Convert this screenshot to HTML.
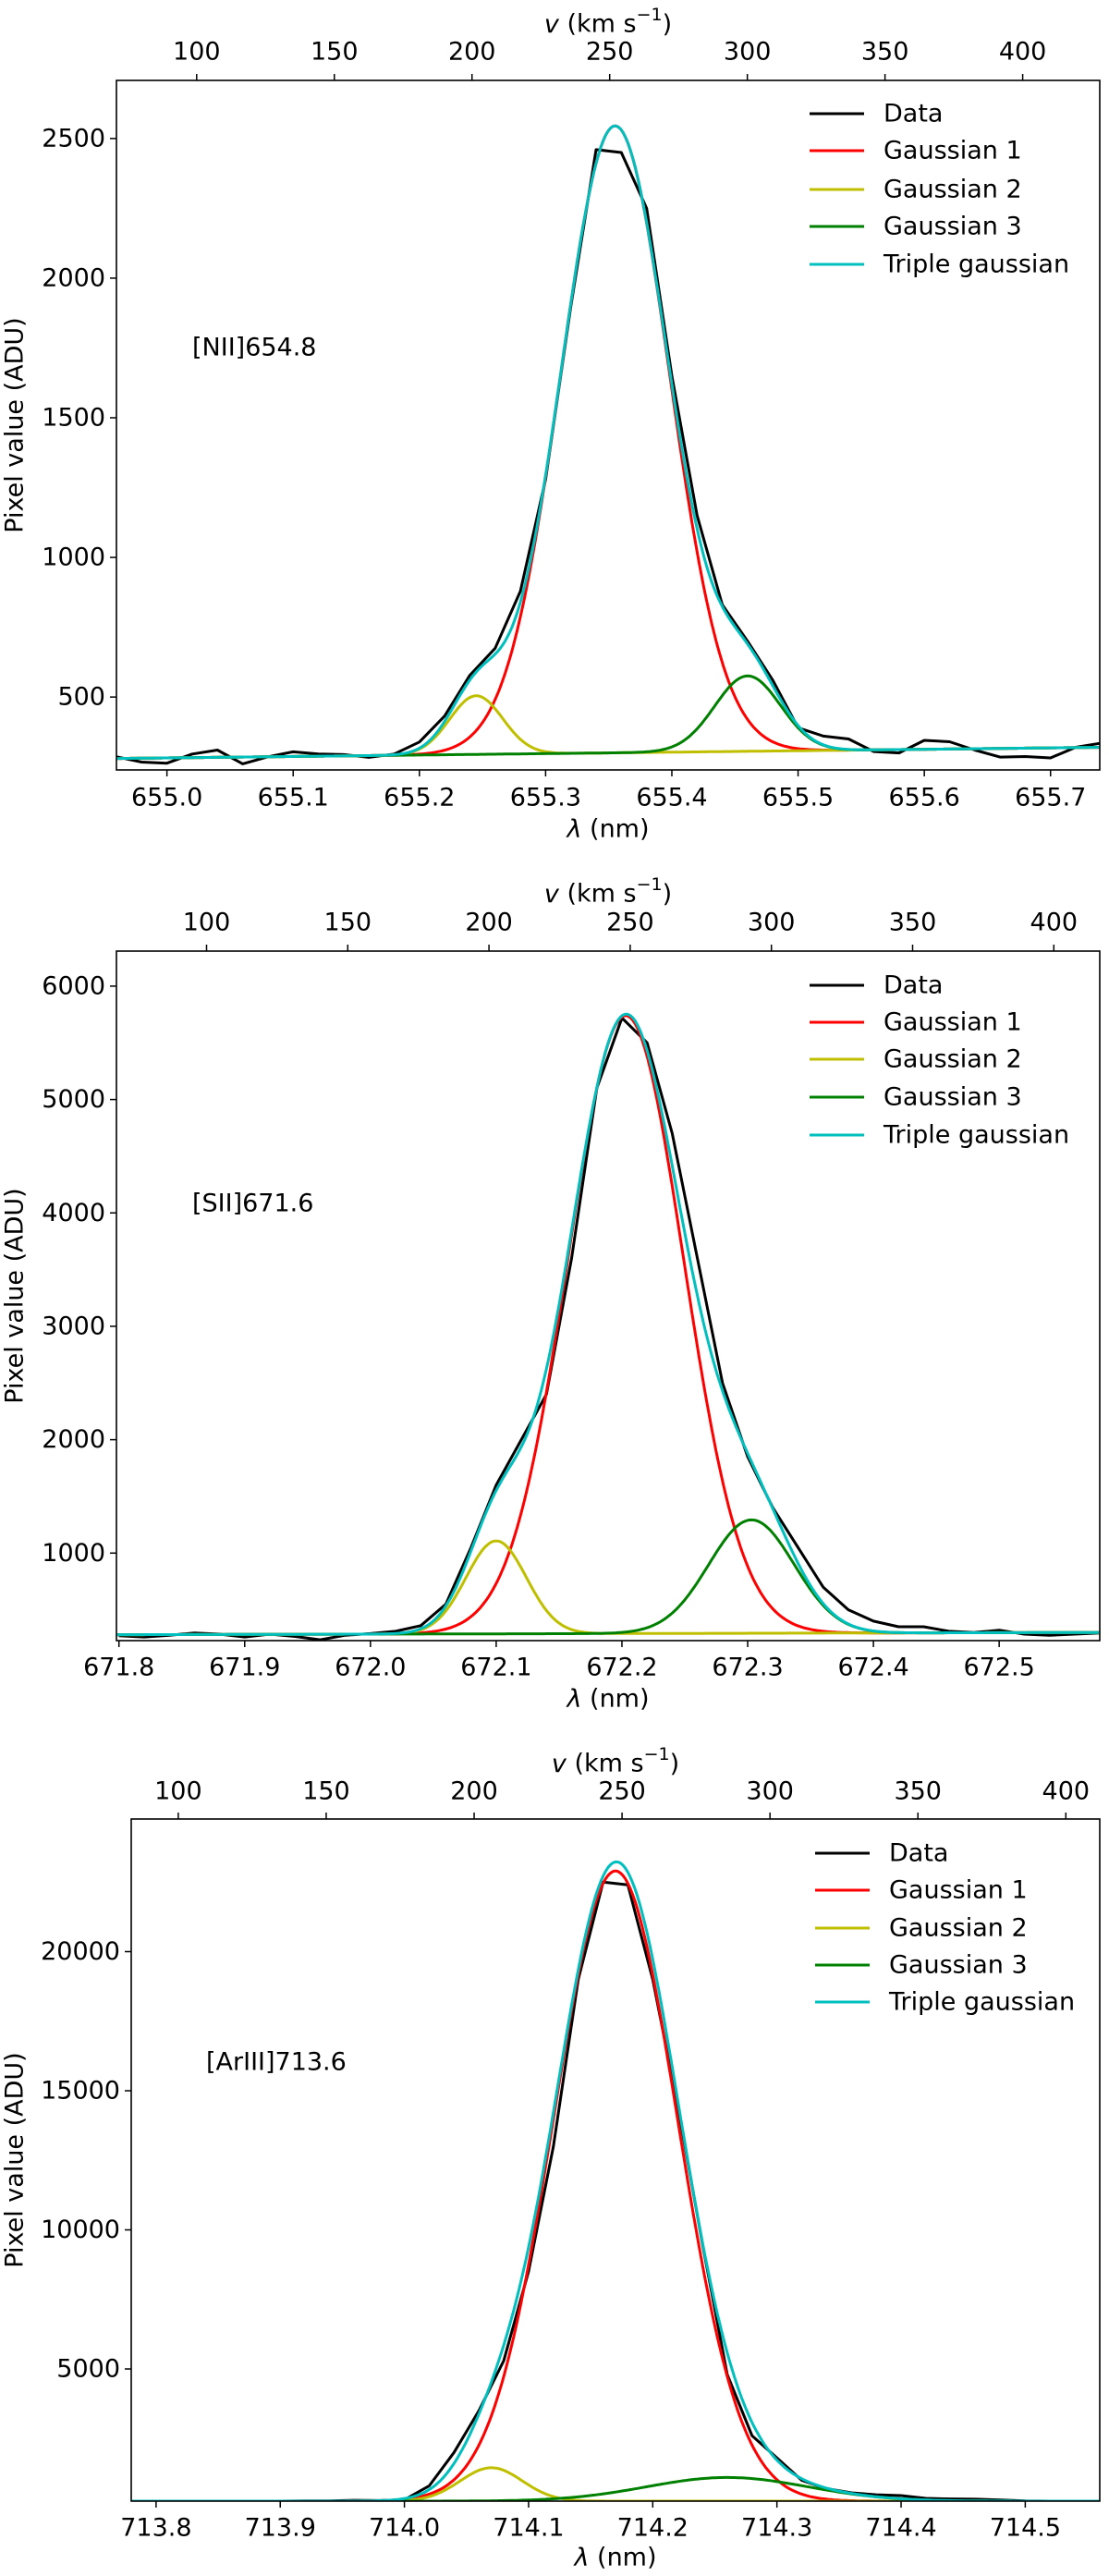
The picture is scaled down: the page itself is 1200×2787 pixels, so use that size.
<!DOCTYPE html>
<html><head><meta charset="utf-8"><style>
html,body{margin:0;padding:0;background:#fff;}
svg{display:block;}
text{font-family:"DejaVu Sans","Liberation Sans",sans-serif;font-size:27px;fill:#000;}
</style></head><body>
<svg id="fig" width="1200" height="2787" viewBox="0 0 1200 2787" xmlns="http://www.w3.org/2000/svg"></svg>
<script>
// ---- Panel 1: [NII]654.8 ----
const p1Wave = [654.96,654.98,655.00,655.02,655.04,655.06,655.08,655.10,655.12,655.14,655.16,655.18,655.20,655.22,655.24,655.26,655.28,655.30,655.32,655.34,655.36,655.38,655.40,655.42,655.44,655.46,655.48,655.50,655.52,655.54,655.56,655.58,655.60,655.62,655.64,655.66,655.68,655.70,655.72,655.74];
const p1Data = [286,267,263,296,310,261,286,304,296,294,284,296,339,432,578,675,879,1280,1900,2460,2450,2250,1650,1150,830,700,560,390,360,350,305,300,345,340,310,285,287,282,320,335];
const p1Amp = [2245,210,270];
const p1Cen = [655.355,655.245,655.46];
const p1Sig = [0.043,0.021,0.026];
const p1Base = [280,320];
const p1XTicks = [655.0,655.1,655.2,655.3,655.4,655.5,655.6,655.7];
const p1YTicks = [500,1000,1500,2000,2500];
const p1VTicks = [100,150,200,250,300,350,400];

// ---- Panel 2: [SII]671.6 ----
const p2Wave = [671.80,671.82,671.84,671.86,671.88,671.90,671.92,671.94,671.96,671.98,672.00,672.02,672.04,672.06,672.08,672.10,672.12,672.14,672.16,672.18,672.20,672.22,672.24,672.26,672.28,672.30,672.32,672.34,672.36,672.38,672.40,672.42,672.44,672.46,672.48,672.50,672.52,672.54,672.56,672.58];
const p2Data = [270,260,275,295,285,260,285,265,235,275,290,310,360,550,1050,1600,2000,2400,3600,5100,5720,5500,4700,3600,2500,1850,1400,1050,700,500,400,350,350,310,300,320,285,275,285,295];
const p2Amp = [5450,820,1000];
const p2Cen = [672.203,672.10,672.303];
const p2Sig = [0.046,0.024,0.034];
const p2Base = [280,300];
const p2XTicks = [671.8,671.9,672.0,672.1,672.2,672.3,672.4,672.5];
const p2YTicks = [1000,2000,3000,4000,5000,6000];
const p2VTicks = [100,150,200,250,300,350,400];

// ---- Panel 3: [ArIII]713.6 ----
const p3Wave = [713.78,713.80,713.82,713.84,713.86,713.88,713.90,713.92,713.94,713.96,713.98,714.00,714.02,714.04,714.06,714.08,714.10,714.12,714.14,714.16,714.18,714.20,714.22,714.24,714.26,714.28,714.30,714.32,714.34,714.36,714.38,714.40,714.42,714.44,714.46,714.48,714.50,714.52,714.54,714.56];
const p3Data = [250,250,250,250,250,250,250,255,260,280,270,300,800,2000,3500,5300,8500,13000,19000,22500,22400,19000,14500,9500,4800,2600,1800,1000,700,550,480,450,350,330,320,290,260,250,250,250];
const p3Amp = [22650,1200,850];
const p3Cen = [714.17,714.07,714.26];
const p3Sig = [0.050,0.025,0.065];
const p3Base = [250,250];
const p3XTicks = [713.8,713.9,714.0,714.1,714.2,714.3,714.4,714.5];
const p3YTicks = [5000,10000,15000,20000];
const p3VTicks = [100,150,200,250,300,350,400];

const NS = "http://www.w3.org/2000/svg";
const fig = document.getElementById('fig');
function mk(tag, attrs, parent){const e=document.createElementNS(NS,tag);for(const k in attrs)e.setAttribute(k,attrs[k]);(parent||fig).appendChild(e);return e;}

const panels = [
 {name:'nii',label:'[NII]654.8',wave:p1Wave,data:p1Data,amp:p1Amp,cen:p1Cen,sig:p1Sig,base:p1Base,xt:p1XTicks,yt:p1YTicks,vt:p1VTicks,
  L:126,R:1190,T:87,B:833,x0:654.960,x1:655.739,y0:239,y1:2708,v100:212.8,v400:1106.6,
  annX:208,annY:376,legY:[123,163,205,245,286],legX:876,vLabY:26,vTickY:56,xTickY:863,xLabY:897,dec:1},
 {name:'sii',label:'[SII]671.6',wave:p2Wave,data:p2Data,amp:p2Amp,cen:p2Cen,sig:p2Sig,base:p2Base,xt:p2XTicks,yt:p2YTicks,vt:p2VTicks,
  L:126,R:1190,T:1029,B:1775,x0:671.798,x1:672.58,y0:228,y1:6309,v100:223.5,v400:1140.3,
  annX:208,annY:1302,legY:[1066,1106,1146,1187,1228],legX:876,vLabY:967,vTickY:998,xTickY:1804,xLabY:1838,dec:1},
 {name:'ariii',label:'[ArIII]713.6',wave:p3Wave,data:p3Data,amp:p3Amp,cen:p3Cen,sig:p3Sig,base:p3Base,xt:p3XTicks,yt:p3YTicks,vt:p3VTicks,
  L:142,R:1190,T:1968,B:2706,x0:713.780,x1:714.560,y0:250,y1:24767,v100:192.9,v400:1153.3,
  annX:223,annY:2231,legY:[2005,2045,2086,2126,2166],legX:882,vLabY:1908,vTickY:1938,xTickY:2735,xLabY:2767,dec:1}
];

const colors = ['#ff0000','#bfbf00','#008000'];

panels.forEach((p,pi)=>{
  const g = mk('g',{});
  
  
  const X = v => p.L + (v-p.x0)/(p.x1-p.x0)*(p.R-p.L);
  const Y = v => p.B - (v-p.y0)/(p.y1-p.y0)*(p.B-p.T);
  const V = v => p.v100 + (v-100)/300*(p.v400-p.v100);
  const clipId = 'clip'+pi;
  const cp = mk('clipPath',{id:clipId},g);
  mk('rect',{x:p.L,y:p.T,width:p.R-p.L,height:p.B-p.T},cp);
  const base = x => p.base[0] + (x-p.x0)/(p.x1-p.x0)*(p.base[1]-p.base[0]);
  const gauss = (i,x) => p.amp[i]*Math.exp(-((x-p.cen[i])**2)/(2*p.sig[i]**2));
  const N=400, pts=[[],[],[],[]];
  for(let k=0;k<=N;k++){
    const x=p.x0+(p.x1-p.x0)*k/N; const b=base(x);
    let tot=b;
    for(let i=0;i<3;i++){const gv=gauss(i,x);pts[i].push(X(x).toFixed(1)+','+Y(b+gv).toFixed(1));tot+=gv;}
    pts[3].push(X(x).toFixed(1)+','+Y(tot).toFixed(1));
  }
  const dpts = p.wave.map((w,i)=>X(w).toFixed(1)+','+Y(p.data[i]).toFixed(1)).join(' ');
  const lg = mk('g',{'clip-path':'url(#'+clipId+')'},g);
  const dl = mk('polyline',{points:dpts,fill:'none',stroke:'#000',"stroke-width":3,"stroke-linejoin":'round'},lg);
  
  
  const names=['gaussian-1-line','gaussian-2-line','gaussian-3-line'];
  for(let i=0;i<3;i++){
    const l=mk('polyline',{points:pts[i].join(' '),fill:'none',stroke:colors[i],"stroke-width":3},lg);
    
    
  }
  const tl=mk('polyline',{points:pts[3].join(' '),fill:'none',stroke:'#00bfbf',"stroke-width":3},lg);
  
  
  const fr=mk('rect',{x:p.L,y:p.T,width:p.R-p.L,height:p.B-p.T,fill:'none',stroke:'#000',"stroke-width":1.6},g);
  
  
  p.xt.forEach(v=>{
    const x=X(v);
    mk('line',{x1:x,x2:x,y1:p.B,y2:p.B+7,stroke:'#000',"stroke-width":1.5},g);
    const t=mk('text',{x:x,y:p.xTickY,"text-anchor":'middle',"dominant-baseline":'central'},g);
    t.textContent=v.toFixed(p.dec);
    
    
  });
  p.yt.forEach(v=>{
    const y=Y(v);
    mk('line',{x1:p.L-7,x2:p.L,y1:y,y2:y,stroke:'#000',"stroke-width":1.5},g);
    const t=mk('text',{x:p.L-12,y:y,"text-anchor":'end',"dominant-baseline":'central'},g);
    t.textContent=String(v);
    
    
  });
  p.vt.forEach(v=>{
    const x=V(v);
    mk('line',{x1:x,x2:x,y1:p.T-7,y2:p.T,stroke:'#000',"stroke-width":1.5},g);
    const t=mk('text',{x:x,y:p.vTickY,"text-anchor":'middle',"dominant-baseline":'central'},g);
    t.textContent=String(v);
    
    
  });
  const cx=(p.L+p.R)/2;
  const vl=mk('text',{x:cx,y:p.vLabY,"text-anchor":'middle',"dominant-baseline":'central'},g);
  vl.innerHTML='<tspan font-style="italic">v</tspan> (km s<tspan dy="-10" font-size="19">−1</tspan><tspan dy="10">)</tspan>';
  
  
  const xl=mk('text',{x:cx,y:p.xLabY,"text-anchor":'middle',"dominant-baseline":'central'},g);
  xl.innerHTML='<tspan font-style="italic">λ</tspan> (nm)';
  
  
  const ym=(p.T+p.B)/2;
  const yl=mk('text',{x:16,y:ym,"text-anchor":'middle',"dominant-baseline":'central',transform:'rotate(-90 16 '+ym+')'},g);
  yl.textContent='Pixel value (ADU)';
  
  
  const an=mk('text',{x:p.annX,y:p.annY,"dominant-baseline":'central'},g);
  an.textContent=p.label;
  
  
  const legNames=['Data','Gaussian 1','Gaussian 2','Gaussian 3','Triple gaussian'];
  const legCols=['#000','#ff0000','#bfbf00','#008000','#00bfbf'];
  legNames.forEach((n,i)=>{
    const y=p.legY[i];
    const le=mk('g',{},g);
    
    
    mk('line',{x1:p.legX,x2:p.legX+59,y1:y,y2:y,stroke:legCols[i],"stroke-width":3},le);
    const t=mk('text',{x:p.legX+80,y:y,"dominant-baseline":'central'},le);
    t.textContent=n;
  });
});
</script>
</body></html>
